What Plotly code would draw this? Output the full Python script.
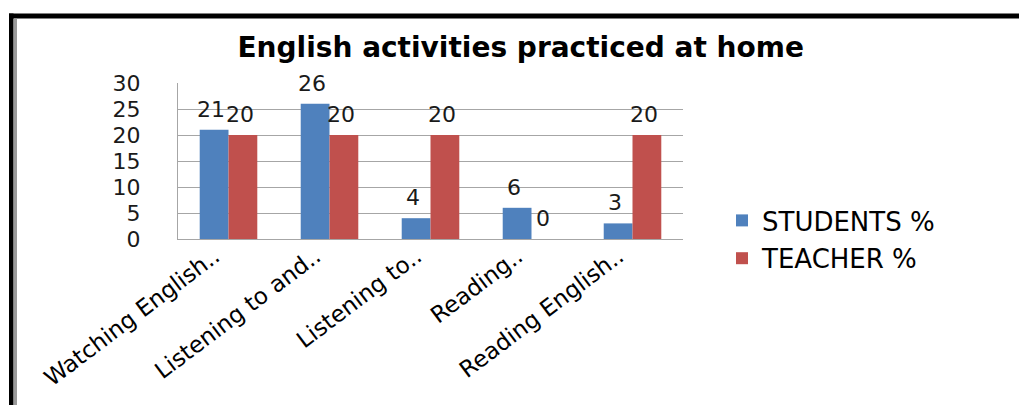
import plotly.graph_objects as go

# Chart data
categories = ["Watching English..", "Listening to and..", "Listening to..",
              "Reading..", "Reading English.."]
students_pct = [21, 26, 4, 6, 3]
teacher_pct = [20, 20, 20, 0, 20]
y_ticks = [0, 5, 10, 15, 20, 25, 30]

W, H = 1019, 405
ML, MR, MT, MB = 178, 336, 83, 166
PLOT_W = W - ML - MR
PLOT_H = H - MT - MB
BARGAP = 0.43

BLUE = "#4F81BD"
RED = "#C0504D"
FONT = "DejaVu Sans"

fig = go.Figure()
fig.add_trace(go.Bar(name="STUDENTS %", x=categories, y=students_pct,
                     marker=dict(color=BLUE, line=dict(width=0)),
                     legendgroup="s"))
fig.add_trace(go.Bar(name="TEACHER %", x=categories, y=teacher_pct,
                     marker=dict(color=RED, line=dict(width=0)),
                     legendgroup="t"))

# value labels above each bar, shifted to the centre of its bar in the group
bar_px = PLOT_W / len(categories) * (1 - BARGAP) / 2
annotations = []
for vals, sign in ((students_pct, -1), (teacher_pct, 1)):
    for cat, v in zip(categories, vals):
        annotations.append(dict(
            x=cat, y=v, xref="x", yref="y", text=str(v), showarrow=False,
            xanchor="center", yanchor="bottom", xshift=sign * bar_px / 2 - 3,
            yshift=6, font=dict(family=FONT, size=22, color="#1a1a1a")))


def px_x(p):
    return (p - ML) / PLOT_W


def px_y(p):
    return (H - MB - p) / PLOT_H


# frame along the top and left edges
shapes = [
    dict(type="rect", xref="paper", yref="paper", x0=px_x(9), x1=px_x(1019),
         y0=px_y(18.5), y1=px_y(13.5), fillcolor="black", line=dict(width=0),
         layer="above"),
    dict(type="rect", xref="paper", yref="paper", x0=px_x(9), x1=px_x(13.5),
         y0=px_y(405), y1=px_y(13.5), fillcolor="black", line=dict(width=0),
         layer="above"),
    dict(type="rect", xref="paper", yref="paper", x0=px_x(14), x1=px_x(17),
         y0=px_y(405), y1=px_y(18.5), fillcolor="#9a9a9a", line=dict(width=0),
         layer="above"),
]

fig.update_layout(
    width=W, height=H,
    margin=dict(l=ML, r=MR, t=MT, b=MB, pad=0, autoexpand=False),
    paper_bgcolor="white", plot_bgcolor="white",
    barmode="group", bargap=BARGAP, bargroupgap=0,
    title=dict(text="<b>English activities practiced at home</b>",
               x=0.511, xref="container", xanchor="center",
               y=1 - 47 / H, yref="container", yanchor="middle",
               font=dict(family=FONT, size=28, color="black")),
    legend=dict(x=px_x(722), y=px_y(197), xanchor="left", yanchor="top",
                font=dict(family=FONT, size=26, color="black"),
                tracegroupgap=1, bgcolor="rgba(0,0,0,0)"),
    annotations=annotations,
    shapes=shapes,
)

fig.update_xaxes(
    type="category", tickangle=-37, automargin=False,
    tickfont=dict(family=FONT, size=23, color="black"),
    showline=True, linecolor="#a6a6a6", linewidth=1,
    ticks="", showgrid=False, ticklabelstandoff=-6, ticklabelshift=-14,
)
fig.update_yaxes(
    range=[0, 30], tickvals=y_ticks, automargin=False,
    tickfont=dict(family=FONT, size=22, color="#1a1a1a"),
    showgrid=True, gridcolor="#a6a6a6", gridwidth=1,
    showline=True, linecolor="#a6a6a6", linewidth=1,
    ticks="", zeroline=False, ticklabelstandoff=32,
)

fig.write_html("out.html")
